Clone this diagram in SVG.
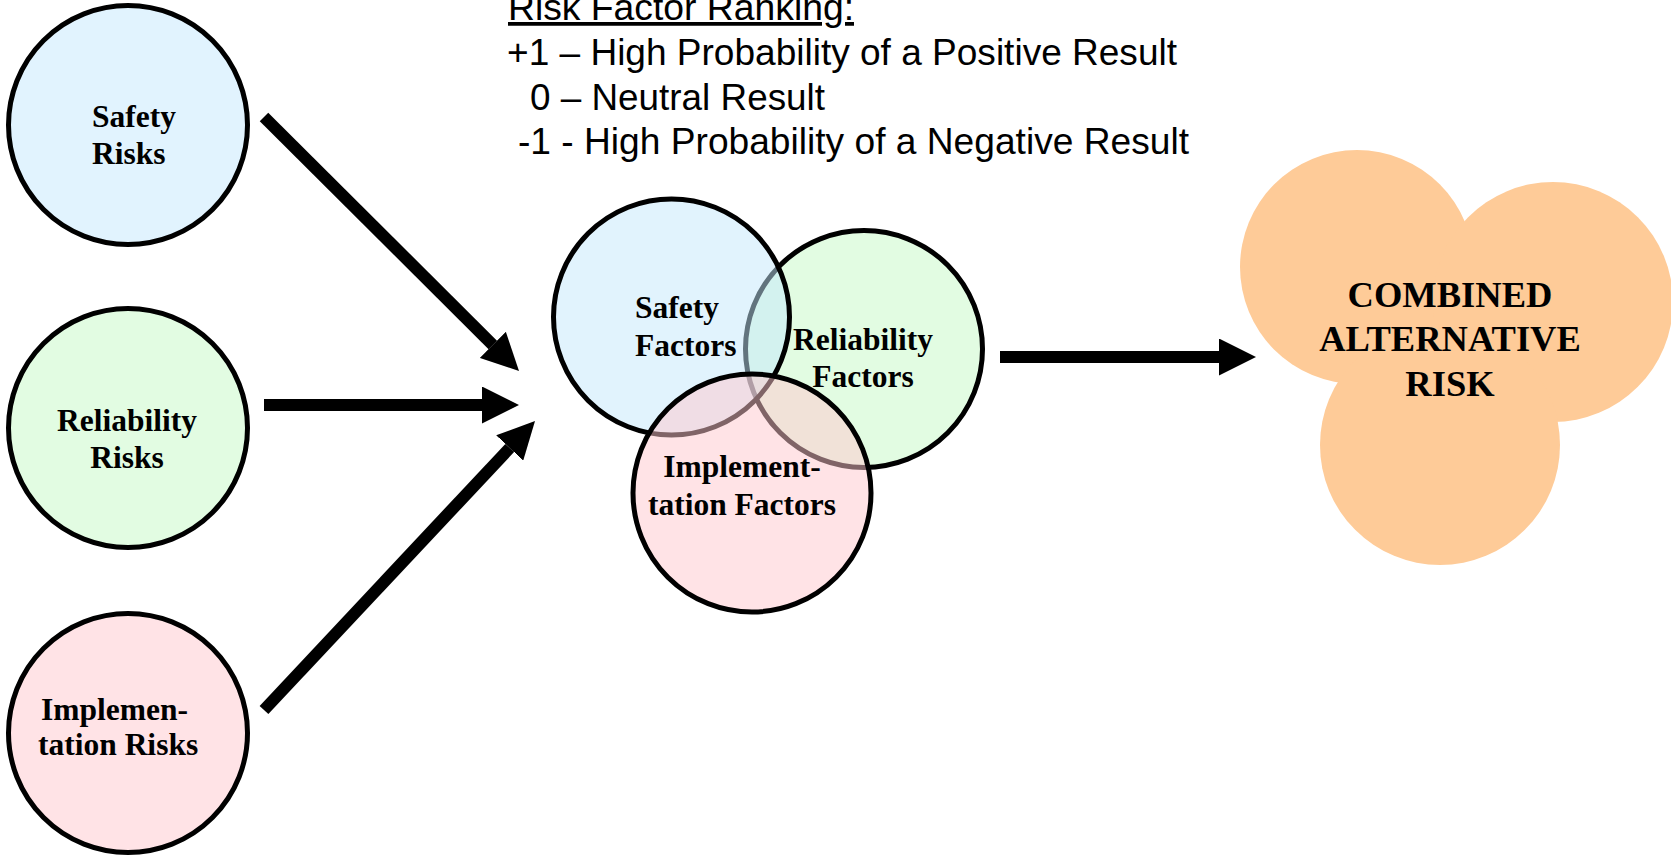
<svg xmlns="http://www.w3.org/2000/svg" width="1671" height="856" viewBox="0 0 1671 856">
<defs>
<style>
.node{stroke:#000;stroke-width:5}
.lbl{font-family:"Liberation Serif","Times New Roman",serif;font-weight:bold;font-size:31.5px;fill:#000}
.big{font-family:"Liberation Serif","Times New Roman",serif;font-weight:bold;font-size:36.5px;fill:#000;text-anchor:middle}
.legend{font-family:"Liberation Sans",Arial,sans-serif;font-size:37.5px;fill:#000}
.conn{stroke:#000;stroke-width:12;fill:none;marker-end:url(#head)}
.cloud{fill:#FECB98}
</style>
<marker id="head" markerUnits="userSpaceOnUse" markerWidth="37" markerHeight="37" viewBox="0 0 37 37" refX="0" refY="18.5" orient="auto">
<path d="M0,0 L37,18.5 L0,37 Z" fill="#000"/>
</marker>
</defs>
<rect width="1671" height="856" fill="#fff"/>

<g id="legend">
<text class="legend" x="508" y="20" textLength="346" lengthAdjust="spacingAndGlyphs" text-decoration="underline">Risk Factor Ranking:</text>
<text class="legend" x="507" y="65" textLength="670" lengthAdjust="spacingAndGlyphs">+1 – High Probability of a Positive Result</text>
<text class="legend" x="530" y="110" textLength="295" lengthAdjust="spacingAndGlyphs">0 – Neutral Result</text>
<text class="legend" x="518" y="154" textLength="671" lengthAdjust="spacingAndGlyphs">-1 - High Probability of a Negative Result</text>
</g>

<g id="safety-risks">
<circle class="node" cx="128" cy="125" r="119.5" fill="#E1F3FE"/>
<text class="lbl" x="92" y="127">Safety</text>
<text class="lbl" x="92" y="164">Risks</text>
</g>
<g id="reliability-risks">
<circle class="node" cx="128" cy="428" r="119.5" fill="#E2FCE2"/>
<text class="lbl" x="127" y="431" text-anchor="middle">Reliability</text>
<text class="lbl" x="127" y="468" text-anchor="middle">Risks</text>
</g>
<g id="implementation-risks">
<circle class="node" cx="128" cy="733" r="119.5" fill="#FFE3E6"/>
<text class="lbl" x="41" y="720">Implemen-</text>
<text class="lbl" x="38" y="755">tation Risks</text>
</g>

<g id="connectors">
<line class="conn" x1="264" y1="117" x2="492.8" y2="344.9"/>
<line class="conn" x1="264" y1="405" x2="482" y2="405"/>
<line class="conn" x1="264" y1="710" x2="509.7" y2="448"/>
<line class="conn" x1="1000" y1="357" x2="1219" y2="357"/>
</g>

<g id="venn">
<g id="reliability-factors">
<circle class="node" cx="864" cy="349" r="118.5" fill="#E2FCE2"/>
</g>
<g id="safety-factors">
<circle class="node" cx="671.5" cy="317" r="118" fill="rgb(195,231,251)" fill-opacity="0.5"/>
</g>
<g id="implementation-factors">
<circle class="node" cx="752" cy="493" r="119" fill="rgb(255,199,205)" fill-opacity="0.5"/>
</g>
<text class="lbl" x="635" y="318">Safety</text>
<text class="lbl" x="635" y="356">Factors</text>
<text class="lbl" x="863" y="350" text-anchor="middle">Reliability</text>
<text class="lbl" x="863" y="387" text-anchor="middle">Factors</text>
<text class="lbl" x="742" y="477" text-anchor="middle">Implement-</text>
<text class="lbl" x="742" y="515" text-anchor="middle">tation Factors</text>
</g>

<g id="combined-risk">
<circle class="cloud" cx="1357" cy="267" r="117"/>
<circle class="cloud" cx="1553" cy="302" r="120"/>
<circle class="cloud" cx="1440" cy="445" r="120"/>
<text class="big" x="1450" y="307">COMBINED</text>
<text class="big" x="1450" y="351">ALTERNATIVE</text>
<text class="big" x="1450" y="396">RISK</text>
</g>
</svg>
